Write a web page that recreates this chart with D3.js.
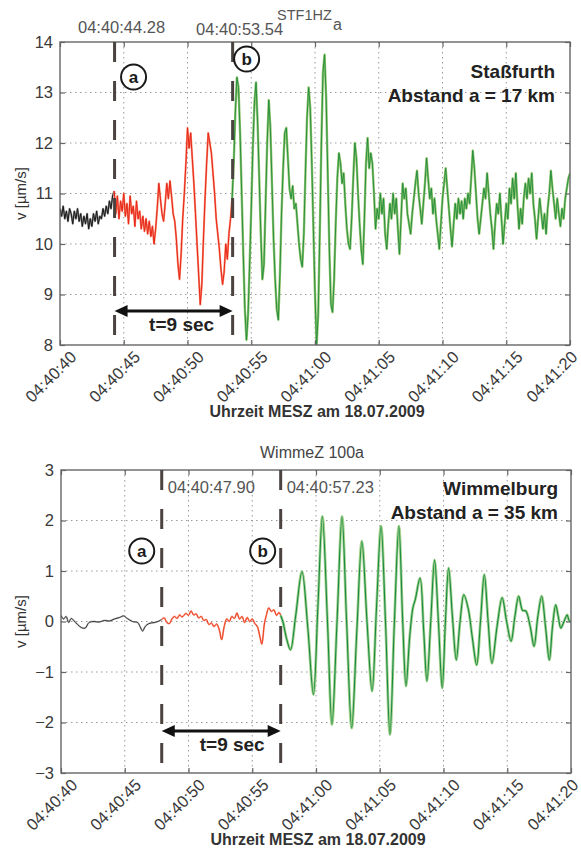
<!DOCTYPE html>
<html>
<meta charset="utf-8">
<style>
body { margin: 0; background: #fff; }
text { font-family: "Liberation Sans", Arial, sans-serif; }
.grid line { stroke: #9a9a9a; stroke-width: 1; stroke-dasharray: 1.5,3.5; }
.tick line { stroke: #666; stroke-width: 1.2; }
.tick text { font-size: 16.5px; fill: #3a3a3a; }
.frame { fill: none; stroke: #666; stroke-width: 1.4; }
.onset { stroke: #4a4340; stroke-width: 3; stroke-dasharray: 20,19; }
.big { font-size: 19px; font-weight: bold; fill: #222; }
.stamp { font-size: 16.5px; fill: #555; }
.xtitle { font-size: 16px; font-weight: bold; fill: #333; }
.ytitle { font-size: 15px; fill: #333; }
</style>
<svg width="581" height="852"></svg>
<script src="https://d3js.org/d3.v7.min.js"></script>
<script>
// time axis: seconds after 04:40:40 MESZ
var tickSecs = [0, 5, 10, 15, 20, 25, 30, 35, 40];
var tickLabels = ["04:40:40", "04:40:45", "04:40:50", "04:40:55", "04:41:00",
                  "04:41:05", "04:41:10", "04:41:15", "04:41:20"];

// Staßfurth STF1HZ, sampled every 0.125 s from 04:40:40
var staStep = 0.125;
var staValues = [
  10.7, 10.55, 10.75, 10.5, 10.65, 10.45, 10.7, 10.6, 10.4, 10.65,
  10.5, 10.7, 10.45, 10.6, 10.35, 10.55, 10.4, 10.6, 10.3, 10.5,
  10.35, 10.6, 10.45, 10.65, 10.4, 10.55, 10.5, 10.7, 10.55, 10.75,
  10.6, 10.85, 10.7, 10.95, 11.05, 10.6, 10.95, 10.5, 10.85, 10.65,
  11.0, 10.55, 10.8, 10.4, 10.95, 10.6, 10.75, 10.35, 10.85, 10.5,
  10.65, 10.3, 10.55, 10.25, 10.5, 10.2, 10.45, 10.15, 10.35, 10.0,
  10.3, 10.7, 11.2, 10.9, 10.6, 10.45, 10.8, 11.2, 10.9, 11.25,
  10.95, 10.6, 10.45, 10.1, 9.6, 9.3, 9.8, 10.5, 11.0, 11.6,
  12.3, 11.9, 12.2, 11.7, 11.2, 10.6, 10.0, 9.4, 8.8, 9.2,
  10.1, 10.9, 11.6, 12.2, 12.0, 11.8, 11.4, 11.0, 10.5, 10.2,
  9.9, 9.5, 9.2, 9.45, 10.0, 9.7, 10.2, 10.5, 10.9, 11.6,
  12.6, 13.3, 13.1, 12.2, 11.0, 9.8, 8.7, 8.1, 8.6, 9.6,
  10.7, 11.9, 12.8, 13.2, 12.4, 11.3, 10.2, 9.3, 9.6, 10.8,
  12.0, 12.85, 12.3, 11.2, 10.1, 9.3, 8.7, 8.5, 9.4, 10.6,
  11.5, 12.2, 12.3, 11.7, 11.1, 10.9, 11.15, 10.7, 10.8, 10.4,
  10.0, 9.7, 9.55, 10.2, 11.4, 12.5, 13.1, 12.7, 11.6, 10.3,
  9.0, 8.0, 8.6, 10.2, 12.0, 13.4, 13.75, 12.9, 11.4, 9.9,
  8.8, 8.65, 9.3, 10.4, 11.3, 11.8, 11.6, 11.2, 11.4, 10.8,
  10.3, 10.0, 9.9, 10.5, 11.3, 12.0, 11.7, 11.0, 10.4, 9.9,
  9.6, 10.5, 11.6, 12.1, 11.5, 11.8, 11.6, 11.0, 10.3, 10.7,
  10.5, 11.0, 10.6, 10.9, 10.2, 9.9, 10.4, 10.8, 10.5, 11.0,
  10.6, 10.9, 10.3, 9.8, 10.5, 11.2, 10.9, 11.1, 10.6, 10.4,
  10.2, 10.6, 10.9, 11.2, 11.45, 11.0, 10.7, 10.4, 10.8, 11.2,
  11.7, 11.3, 10.9, 11.1, 10.6, 10.9, 10.5, 10.2, 9.9, 10.4,
  10.9, 11.2, 11.5, 11.1, 10.7, 10.3, 9.95, 10.4, 10.8, 10.5,
  10.9, 10.6, 10.85, 10.5, 10.9, 10.7, 11.0, 10.8, 11.3, 11.85,
  11.5, 11.0, 10.5, 10.2, 10.5, 10.8, 11.1, 10.9, 11.4, 11.0,
  10.6, 10.3, 9.9, 10.4, 10.8, 10.6, 11.0, 10.5, 10.0, 10.4,
  10.8, 10.5, 11.1, 10.8, 11.3, 10.9, 11.4, 10.8, 10.3, 10.7,
  10.4, 10.9, 11.2, 10.9, 11.3, 11.0, 11.4, 10.8, 10.5, 10.1,
  10.5, 10.9, 10.6, 10.3, 10.6, 10.2, 10.7, 11.0, 11.45, 11.1,
  10.8, 10.5, 10.9, 10.6, 10.35, 10.7, 10.5, 10.9, 11.1, 11.3,
  11.4
];
var staOnsets = [4.28, 13.54];
var staOnsetLabels = ["04:40:44.28", "04:40:53.54"];

// Wimmelburg WimmeZ, read at the turning points of the trace
var wimTimes = [
  0.0, 0.2, 0.4, 0.6, 0.8, 1.0, 1.3, 1.6, 1.9, 2.2, 2.6, 3.0, 3.4, 3.8, 4.2, 4.6,
  4.9, 5.2, 5.6, 6.0, 6.2, 6.4, 6.6, 6.9, 7.3, 7.6, 7.9,
  8.1, 8.3, 8.5, 8.7, 8.9, 9.1, 9.3, 9.5, 9.8, 10.0, 10.2, 10.4, 10.6, 10.8,
  11.0, 11.2, 11.4, 11.6, 11.8, 12.0, 12.2, 12.4, 12.6, 12.8, 13.0, 13.2, 13.4,
  13.6, 13.8, 14.0, 14.2, 14.4, 14.6, 14.8, 15.0, 15.2, 15.4, 15.6, 15.75, 15.95,
  16.1, 16.3, 16.5, 16.7, 16.9, 17.1, 17.23,
  17.4, 17.7, 18.0, 18.4, 18.9, 19.35, 19.8, 20.15, 20.5, 20.9, 21.25, 21.65,
  22.04, 22.4, 22.8, 23.2, 23.6, 24.0, 24.4, 24.75, 25.1, 25.45, 25.8, 26.15,
  26.5, 26.8, 27.06, 27.35, 27.6, 27.8, 28.16, 28.45, 28.7, 29.0, 29.3, 29.6,
  29.9, 30.15, 30.4, 30.7, 31.0, 31.3, 31.6, 31.95, 32.25, 32.6, 32.9, 33.2,
  33.5, 33.8, 34.2, 34.6, 34.95, 35.3, 35.6, 35.9, 36.2, 36.45, 36.8, 37.1,
  37.4, 37.7, 38.0, 38.3, 38.55, 38.8, 39.0, 39.2, 39.45, 39.7, 39.85, 40.0
];
var wimValues = [
  0.12, 0.05, 0.1, -0.02, 0.06, 0.02, -0.06, -0.12, -0.13, -0.02, 0.0, -0.01, 0.02, 0.01, 0.05, 0.08,
  0.11, 0.06, 0.0, -0.02, -0.1, -0.19, -0.1, -0.04, -0.02, 0.0, 0.04,
  0.07, -0.02, -0.04, 0.05, 0.1, 0.06, 0.13, 0.09, 0.16, 0.12, 0.21, 0.13, 0.15, 0.07,
  0.1, 0.02, 0.04, -0.06, -0.03, -0.1, -0.05, -0.15, -0.36, -0.1, 0.05, 0.0, 0.1,
  0.06, 0.17, 0.05, 0.1, -0.02, 0.08, 0.0, 0.05, -0.04, -0.1, -0.3, -0.45, -0.05,
  0.12, 0.27, 0.2, 0.23, 0.12, 0.18, 0.12,
  0.0, -0.35, -0.56, 0.1, 0.99, -0.1, -1.45, 0.3, 2.08, 0.0, -2.04, 0.0,
  2.08, 0.0, -2.11, -0.2, 1.59, 0.0, -1.38, 0.3, 1.89, 0.0, -2.24, 0.0,
  1.89, 0.0, -1.28, -0.3, 0.27, 0.45, 0.86, -0.2, -1.18, 0.0, 1.22, 0.0,
  -1.32, 0.0, 1.06, 0.1, -0.76, 0.0, 0.53, 0.24, -0.3, -0.86, 0.0, 0.93,
  0.0, -0.83, -0.1, 0.47, 0.0, -0.39, 0.1, 0.5, 0.22, 0.21, -0.1, -0.49,
  0.1, 0.5, -0.1, -0.76, -0.1, 0.33, 0.1, -0.13, 0.0, 0.13, 0.02, 0.0
];
var wimOnsets = [7.90, 17.23];
var wimOnsetLabels = ["04:40:47.90", "04:40:57.23"];

var svg = d3.select("svg");

function drawPanel(p) {
  var x = d3.scaleLinear().domain([0, 40]).range([0, p.w]);
  var y = d3.scaleLinear().domain(p.yDomain).range([p.h, 0]);
  var g = svg.append("g").attr("transform", "translate(" + p.left + "," + p.top + ")");

  g.append("defs").append("clipPath").attr("id", p.id + "clip")
    .append("rect").attr("width", p.w).attr("height", p.h);

  // dotted grid
  g.append("g").attr("class", "grid").selectAll("line").data(tickSecs.slice(1, -1)).enter()
    .append("line").attr("x1", x).attr("x2", x).attr("y1", 0).attr("y2", p.h);
  g.append("g").attr("class", "grid").selectAll("line").data(p.yTicks.slice(1, -1)).enter()
    .append("line").attr("y1", y).attr("y2", y).attr("x1", 0).attr("x2", p.w);

  // traces
  var line = d3.line().x(function(d) { return x(d[0]); }).y(function(d) { return y(d[1]); })
    .curve(p.curve);
  var traces = g.append("g").attr("clip-path", "url(#" + p.id + "clip)");
  p.segments.forEach(function(s) {
    s.styles.forEach(function(st) {
      traces.append("path").datum(s.pts)
        .attr("fill", "none").attr("stroke", st[0]).attr("stroke-width", st[1])
        .attr("stroke-linejoin", "round")
        .attr("d", line);
    });
  });

  // axes with inward ticks on all sides
  var fmt = function(d) { return tickLabels[tickSecs.indexOf(d)]; };
  var xb = g.append("g").attr("transform", "translate(0," + p.h + ")")
    .call(d3.axisBottom(x).tickValues(tickSecs).tickSize(-5).tickFormat(fmt));
  xb.selectAll("text")
    .attr("text-anchor", "end").attr("y", 0).attr("dy", "0.35em")
    .attr("transform", function(d) { return "translate(" + (d === 40 ? 4 : 13) + ",9) rotate(-45)"; });
  g.append("g").call(d3.axisTop(x).tickValues(tickSecs).tickSize(-5).tickFormat(""));
  g.append("g").call(d3.axisLeft(y).tickValues(p.yTicks).tickSize(-5).tickPadding(7)
    .tickFormat(d3.format("d")));
  g.append("g").attr("transform", "translate(" + p.w + ",0)")
    .call(d3.axisRight(y).tickValues(p.yTicks).tickSize(-5).tickFormat(""));
  g.selectAll(".domain").remove();
  g.append("rect").attr("class", "frame").attr("width", p.w).attr("height", p.h);

  // onset markers
  g.selectAll(".onset").data(p.onsets).enter().append("line")
    .attr("class", "onset")
    .attr("x1", x).attr("x2", x).attr("y1", 0).attr("y2", p.h);

  // circled letters
  ["a", "b"].forEach(function(letter, i) {
    var cx = x(p.onsets[i]) + p.circle[i][0], cy = p.circle[i][1];
    g.append("circle").attr("cx", cx).attr("cy", cy).attr("r", 12.5)
      .attr("fill", "#fff").attr("stroke", "#1a1a1a").attr("stroke-width", 2);
    g.append("text").attr("x", cx).attr("y", cy).attr("dy", "0.36em")
      .attr("text-anchor", "middle").style("font-size", "17px").style("font-weight", "bold")
      .attr("fill", "#1a1a1a").text(letter);
  });

  // onset time stamps
  g.selectAll(".stamp").data(p.onsetLabels).enter().append("text")
    .attr("class", "stamp")
    .attr("x", function(d, i) { return x(p.onsets[i]) + p.stampDx; })
    .attr("y", function(d, i) { return p.stampY[i]; })
    .attr("text-anchor", p.stampAnchor)
    .text(function(d) { return d; });

  // double arrow t=9 sec
  var x0 = x(p.onsets[0]), x1 = x(p.onsets[1]);
  g.append("line").attr("x1", x0 + 8).attr("x2", x1 - 8)
    .attr("y1", p.arrowY).attr("y2", p.arrowY)
    .attr("stroke", "#111").attr("stroke-width", 3);
  [[x0, 1], [x1, -1]].forEach(function(a) {
    g.append("path")
      .attr("d", "M" + a[0] + "," + p.arrowY + "l" + (13 * a[1]) + ",-6l0,12z")
      .attr("fill", "#111");
  });
  g.append("text").attr("class", "big").attr("x", (x0 + x1) / 2 + p.tDx).attr("y", p.arrowY + 20)
    .attr("text-anchor", "middle").text("t=9 sec");

  // station text
  g.append("text").attr("class", "big").attr("x", p.w - p.nameDx).attr("y", p.nameY)
    .attr("text-anchor", "end").text(p.name);
  g.append("text").attr("class", "big").attr("x", p.w - p.nameDx).attr("y", p.nameY + 24)
    .attr("text-anchor", "end").text(p.dist);

  // axis titles
  g.append("text").attr("class", "xtitle").attr("x", p.w / 2 + 2).attr("y", p.h + 72)
    .attr("text-anchor", "middle").text("Uhrzeit MESZ am 18.07.2009");
  g.append("text").attr("class", "ytitle")
    .attr("transform", "translate(" + (26 - p.left) + "," + (p.h / 2) + ") rotate(-90)")
    .attr("text-anchor", "middle").text("v [\u00b5m/s]");
  return g;
}

// Staßfurth panel
var staPts = staValues.map(function(v, i) { return [i * staStep, v]; });
var iA = Math.round(staOnsets[0] / staStep), iB = Math.round(staOnsets[1] / staStep);
drawPanel({
  id: "sta", left: 60, top: 42, w: 510, h: 303,
  yDomain: [8, 14], yTicks: [8, 9, 10, 11, 12, 13, 14],
  curve: d3.curveLinear,
  segments: [
    { pts: staPts.slice(0, iA + 1), styles: [["#8a8a8a", 2], ["#1a1a1a", 1]] },
    { pts: staPts.slice(iA, iB + 1), styles: [["#f7896b", 2], ["#e8261a", 1]] },
    { pts: staPts.slice(iB), styles: [["#93c66e", 2.4], ["#1d8a3c", 0.9]] }
  ],
  onsets: staOnsets, onsetLabels: staOnsetLabels,
  circle: [[19, 35], [14, 17]],
  stampDx: 7, stampY: [-9, -7], stampAnchor: "middle",
  arrowY: 269, tDx: 8,
  name: "Staßfurth", dist: "Abstand a = 17 km", nameDx: 15, nameY: 36
});
svg.append("text").attr("x", 277).attr("y", 20).style("font-size", "14.5px").attr("fill", "#555")
  .text("STF1HZ");
svg.append("text").attr("x", 333).attr("y", 30).style("font-size", "16px").attr("fill", "#555")
  .text("a");

// Wimmelburg panel
var wimPts = wimTimes.map(function(t, i) { return [t, wimValues[i]]; });
drawPanel({
  id: "wim", left: 61, top: 470, w: 510, h: 303,
  yDomain: [-3, 3], yTicks: [-3, -2, -1, 0, 1, 2, 3],
  curve: d3.curveCatmullRom.alpha(0.5),
  segments: [
    { pts: wimPts.filter(function(d) { return d[0] <= wimOnsets[0]; }), styles: [["#bdbdbd", 1.8], ["#333", 1]] },
    { pts: wimPts.filter(function(d) { return d[0] >= wimOnsets[0] && d[0] <= wimOnsets[1]; }), styles: [["#f9a08a", 1.8], ["#ec3a1c", 1]] },
    { pts: wimPts.filter(function(d) { return d[0] >= wimOnsets[1]; }), styles: [["#a4d28c", 2.8], ["#168a44", 1.1]] }
  ],
  onsets: wimOnsets, onsetLabels: wimOnsetLabels,
  circle: [[-20, 81], [-18, 81]],
  stampDx: 6, stampY: [23, 23], stampAnchor: "start",
  arrowY: 261, tDx: 11,
  name: "Wimmelburg", dist: "Abstand a = 35 km", nameDx: 13, nameY: 25
});
svg.append("text").attr("x", 312).attr("y", 458).attr("text-anchor", "middle")
  .style("font-size", "16px").attr("fill", "#444").text("WimmeZ 100a");
</script>
</html>
